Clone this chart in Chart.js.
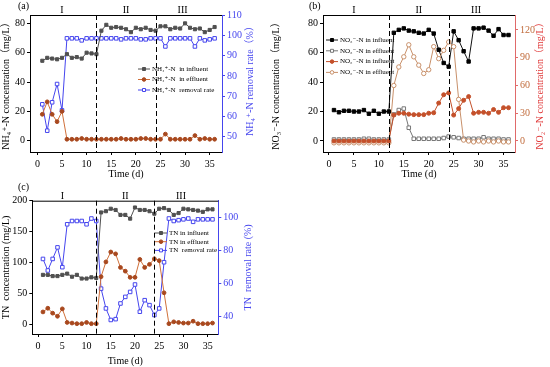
<!DOCTYPE html>
<html><head><meta charset="utf-8">
<script src="https://cdn.jsdelivr.net/npm/chart.js@4.4.0/dist/chart.umd.min.js"></script>
<style>
html,body{margin:0;padding:0;background:#fff;}
body{width:550px;height:367px;position:relative;overflow:hidden;}
canvas{position:absolute;}
</style></head><body>
<canvas id="ca" width="270" height="180" style="left:0;top:0"></canvas>
<canvas id="cb" width="280" height="180" style="left:270px;top:0"></canvas>
<canvas id="cc" width="270" height="187" style="left:0;top:180px"></canvas>
<script>
// ---------- data ----------
const days = [1,2,3,4,5,6,7,8,9,10,11,12,13,14,15,16,17,18,19,20,21,22,23,24,25,26,27,28,29,30,31,32,33,34,35,36];
const phaseBoundaries = [12, 24];
const phaseLabels = ['I', 'II', 'III'];
const phaseLabelDays = [5, 18, 29.5];
const xTicks = [0, 5, 10, 15, 20, 25, 30, 35];

// (a) NH4+-N
const nh4Influent = [54.5,56.5,56,55.5,56.5,59,56.5,57,56,60,59.5,59,75,79,77,77.5,77,76,74,77,76,77,75.5,75,78,78,76,77,76.5,80,77,76,76.5,74,75.5,77.5];
const nh4Effluent = [18,26.5,18,13,20,1,1,1,1.5,1,1,1,1,1,1,1,1.5,1,1,1,1.5,1.5,1,1,1,4.5,1,1,1,1,1,3.5,1,1.5,1,1];
const nh4Removal  = [66,53,67,76,63,98.5,98.5,98.5,97.5,98.5,98.5,98.5,98.5,98.5,98.5,98.5,98,98.5,98.5,98.5,98,98,98.5,98.5,98.5,94.5,98.5,98.5,98.5,98.5,98.5,94.5,98.5,97.5,98,98.5];

// (b) NO3--N (left) and NO2--N (right)
const no3Influent = [21,19.5,20.5,20.5,20,20,21,18.5,20.5,18.5,20,20,73.5,75.5,76.5,75,74.5,73.5,73,75.5,73,62,53,50.5,74.5,68.5,61,54,76.5,76.5,77,75,71.5,76,72,72];
const no3Effluent = [1,1,1,1,1,1,1.5,1.5,1,1,1,1,18,21,22,9,1.5,1.5,1.5,1.5,1.5,1.5,2,3,2.5,2,1.5,1.5,1.5,1.5,2.5,1.5,1.5,1.5,1,1];
const no2Influent = [0,0,0,0,0,0,0,0,0,0,0,0,28,30,30,29,28.5,28.5,28.5,30,30.5,41,50,52,28,35,44,48,30,31,31,30,34,31,36,36];
const no2Effluent = [-2,-2,-2,-2,-2,-2,-2,-2,-2,-2,-2,-2,60,80,91,104,91,82,73,77,102,89,98,107,102,45,1,0,-1,0,-1,0,-1,0,-1,-1];

// (c) TN
const tnInfluent = [80,80,78,78,80,82,77,80,74,74,76,75,181,183,187,185,177,177,171,189,185,185,183,179,187,188,185,177,180,187,186,185,184,182,186,186];
const tnEffluent = [20,26,18,13,25,3,2,1,1,3,1,1,77,101,117,114,92,86,76,76,105,92,97,106,103,51,1,4,3,2,2,5,1,1,1,2];
const tnRemoval  = [75,68,75,82,70,96,98,98,98,96,99.5,98,57,45,38,38.5,48,52,55,59.5,43,50,47,41,45,73,99.5,98,98.5,99,99.5,97.5,99,99,99,99];

// ---------- style ----------
const FONT = '"Liberation Serif","DejaVu Serif","Noto Sans CJK SC",serif';
Chart.defaults.font.family = FONT;
Chart.defaults.font.size = 10;
Chart.defaults.color = '#000';
Chart.defaults.animation = false;

const BLUE = '#4545ee';
const GRAY = '#505050';
const ORANGE_LINE = '#d0703a';
const ORANGE_PT = '#a8481e';

const decoPlugin = {
  id: 'deco',
  afterDatasetsDraw(chart, args, o) {
    const ctx = chart.ctx, a = chart.chartArea, xs = chart.scales.x;
    ctx.save();
    // top border
    ctx.strokeStyle = '#000'; ctx.lineWidth = 1;
    ctx.beginPath(); ctx.moveTo(a.left, a.top + 0.5); ctx.lineTo(a.right, a.top + 0.5); ctx.stroke();
    // phase boundaries
    ctx.setLineDash([5, 3]);
    phaseBoundaries.forEach(d => {
      const px = Math.round(xs.getPixelForValue(d)) + 0.5;
      ctx.beginPath(); ctx.moveTo(px, a.top); ctx.lineTo(px, a.bottom); ctx.stroke();
    });
    ctx.setLineDash([]);
    // phase labels
    ctx.fillStyle = '#000'; ctx.font = '10px ' + FONT; ctx.textAlign = 'center'; ctx.textBaseline = 'middle';
    phaseLabels.forEach((t, i) => ctx.fillText(t, xs.getPixelForValue(phaseLabelDays[i]), o.romanY));
    // right axis title (reads bottom-to-top)
    ctx.save();
    ctx.translate(o.rtX, (a.top + a.bottom) / 2 + (o.rtDy || 0));
    ctx.rotate(-Math.PI / 2);
    ctx.fillStyle = o.rtColor; ctx.font = '10px ' + FONT;
    ctx.fillText(o.rtText, 0, 0);
    ctx.restore();
    // panel label
    ctx.textAlign = 'left';
    ctx.fillText(o.panel, o.panelX, o.panelY);
    // legend
    ctx.font = '7px ' + FONT; ctx.textBaseline = 'middle';
    o.legend.forEach((it, i) => {
      const y = o.lgY + i * o.lgDy;
      ctx.strokeStyle = it.line; ctx.lineWidth = 1;
      ctx.beginPath(); ctx.moveTo(o.lgX, y); ctx.lineTo(o.lgX + 12, y); ctx.stroke();
      const cx = o.lgX + 6;
      ctx.fillStyle = it.fill; ctx.strokeStyle = it.pt;
      ctx.beginPath();
      if (it.style === 'rect') ctx.rect(cx - 1.5, y - 1.5, 3, 3); else ctx.arc(cx, y, 1.8, 0, Math.PI * 2);
      ctx.fill(); ctx.stroke();
      ctx.fillStyle = '#000';
      ctx.fillText(it.text, o.lgX + 14, y);
    });
    ctx.restore();
  }
};

function ds(label, data, axis, line, pt, fill, style, r) {
  return { label, data: days.map((d, i) => ({ x: d, y: data[i] })), yAxisID: axis,
    borderColor: line, borderWidth: 1, pointBorderColor: pt, pointBackgroundColor: fill,
    pointStyle: style, pointRadius: r, pointBorderWidth: 1, tension: 0, fill: false };
}

function yAxis(pos, min, max, step, color, title, width, tickColor) {
  return {
    type: 'linear', position: pos, min, max,
    ticks: { stepSize: step, includeBounds: false, color: tickColor || color, padding: 2, font: { size: 10 } },
    grid: { drawOnChartArea: false, drawTicks: true, tickLength: 3, color: color },
    border: { color: color, width: 1 },
    title: { display: !!title, text: title || '', color: color, font: { size: 10 }, padding: { top: 0, bottom: 1 } },
    afterFit(s) { s.width = width; }
  };
}
function xAxis(min, max, height) {
  return {
    type: 'linear', min, max,
    afterBuildTicks(s) { s.ticks = xTicks.map(v => ({ value: v })); },
    ticks: { padding: 3, font: { size: 10 } },
    grid: { drawOnChartArea: false, drawTicks: true, tickLength: 3, color: '#000' },
    border: { color: '#000', width: 1 },
    title: { display: true, text: 'Time (d)', font: { size: 10 }, padding: { top: 0, bottom: 0 } },
    afterFit(s) { s.height = height; }
  };
}

// (a)
new Chart(document.getElementById('ca'), {
  type: 'line',
  data: { datasets: [
    ds('NH4 influent', nh4Influent, 'y', GRAY, GRAY, GRAY, 'rect', 2.2),
    ds('NH4 effluent', nh4Effluent, 'y', ORANGE_LINE, ORANGE_PT, ORANGE_PT, 'circle', 1.9),
    ds('NH4 removal', nh4Removal, 'y1', BLUE, BLUE, '#fff', 'rect', 2.5)
  ]},
  options: {
    responsive: false, layout: { padding: { top: 15, left: 0, right: 0, bottom: 0 } },
    plugins: { legend: { display: false }, tooltip: { enabled: false },
      deco: { panel: '(a)', panelX: 18, panelY: 6, romanY: 10, lgX: 138, lgY: 69, lgDy: 10.5,
        rtX: 250, rtColor: BLUE, rtText: 'NH₄⁺-N removal rate（%）', rtDy: -5,
        legend: [
          { text: 'NH₄⁺-N  in influent', line: GRAY, pt: GRAY, fill: GRAY, style: 'rect' },
          { text: 'NH₄⁺-N  in effluent', line: ORANGE_LINE, pt: ORANGE_PT, fill: ORANGE_PT, style: 'circle' },
          { text: 'NH₄⁺-N  removal rate', line: BLUE, pt: BLUE, fill: '#fff', style: 'rect' }
        ] } },
    scales: {
      x: xAxis(-1.5, 37.5, 28),
      y: yAxis('left', -7.7, 85.7, 20, '#000', 'NH₄⁺-N concentration（mg/L）', 30),
      y1: yAxis('right', 42.5, 110, 10, BLUE, null, 48)
    }
  },
  plugins: [decoPlugin]
});

// (b)
const RED_AX = '#e06a6a';
const NO2_IN = '#c4502a';
const NO2_OUT = '#c8906a';
new Chart(document.getElementById('cb'), {
  type: 'line',
  data: { datasets: [
    ds('NO2 influent', no2Influent, 'y1', NO2_IN, NO2_IN, NO2_IN, 'circle', 2),
    ds('NO2 effluent', no2Effluent, 'y1', NO2_OUT, NO2_OUT, '#fff', 'circle', 2.2),
    ds('NO3 effluent', no3Effluent, 'y', '#777', '#777', '#fff', 'rect', 2.5),
    ds('NO3 influent', no3Influent, 'y', '#111', '#000', '#000', 'rect', 2.4)
  ]},
  options: {
    responsive: false, layout: { padding: { top: 15, left: 0, right: 0, bottom: 0 } },
    plugins: { legend: { display: false }, tooltip: { enabled: false },
      deco: { panel: '(b)', panelX: 39, panelY: 6, romanY: 10, lgX: 56, lgY: 40, lgDy: 10.8,
        rtX: 270, rtColor: '#e03a3a', rtText: 'NO₂⁻-N concentration（mg/L）', rtDy: 0,
        legend: [
          { text: 'NO₃⁻-N in influent', line: '#111', pt: '#000', fill: '#000', style: 'rect' },
          { text: 'NO₃⁻-N in effluent', line: '#777', pt: '#777', fill: '#fff', style: 'rect' },
          { text: 'NO₂⁻-N in influent', line: NO2_IN, pt: NO2_IN, fill: NO2_IN, style: 'circle' },
          { text: 'NO₂⁻-N in effluent', line: NO2_OUT, pt: NO2_OUT, fill: '#fff', style: 'circle' }
        ] } },
    scales: {
      x: xAxis(-1.2, 37.3, 28),
      y: yAxis('left', -7.5, 85.6, 20, '#000', 'NO₃⁻-N concentration（mg/L）', 53),
      y1: yAxis('right', -11.9, 136.2, 30, RED_AX, null, 35, '#c06a3a')
    }
  },
  plugins: [decoPlugin]
});

// (c)
new Chart(document.getElementById('cc'), {
  type: 'line',
  data: { datasets: [
    ds('TN influent', tnInfluent, 'y', GRAY, GRAY, GRAY, 'rect', 2.2),
    ds('TN effluent', tnEffluent, 'y', ORANGE_LINE, ORANGE_PT, ORANGE_PT, 'circle', 1.9),
    ds('TN removal', tnRemoval, 'y1', BLUE, BLUE, '#fff', 'rect', 2.5)
  ]},
  options: {
    responsive: false, layout: { padding: { top: 20.7, left: 0, right: 0, bottom: 0 } },
    plugins: { legend: { display: false }, tooltip: { enabled: false },
      deco: { panel: '(c)', panelX: 18, panelY: 7, romanY: 16, lgX: 155, lgY: 53, lgDy: 8.7,
        rtX: 248, rtColor: BLUE, rtText: 'TN  removal rate (%)', rtDy: 0,
        legend: [
          { text: 'TN in influent', line: GRAY, pt: GRAY, fill: GRAY, style: 'rect' },
          { text: 'TN in effluent', line: ORANGE_LINE, pt: ORANGE_PT, fill: ORANGE_PT, style: 'circle' },
          { text: 'TN  removal rate', line: BLUE, pt: BLUE, fill: '#fff', style: 'rect' }
        ] } },
    scales: {
      x: xAxis(-1.2, 37.2, 33),
      y: yAxis('left', -15.7, 200, 50, '#000', 'TN  concentration (mg/L)', 32.3),
      y1: yAxis('right', 29.5, 110.3, 20, BLUE, null, 51.7)
    }
  },
  plugins: [decoPlugin]
});
</script>
</body></html>
